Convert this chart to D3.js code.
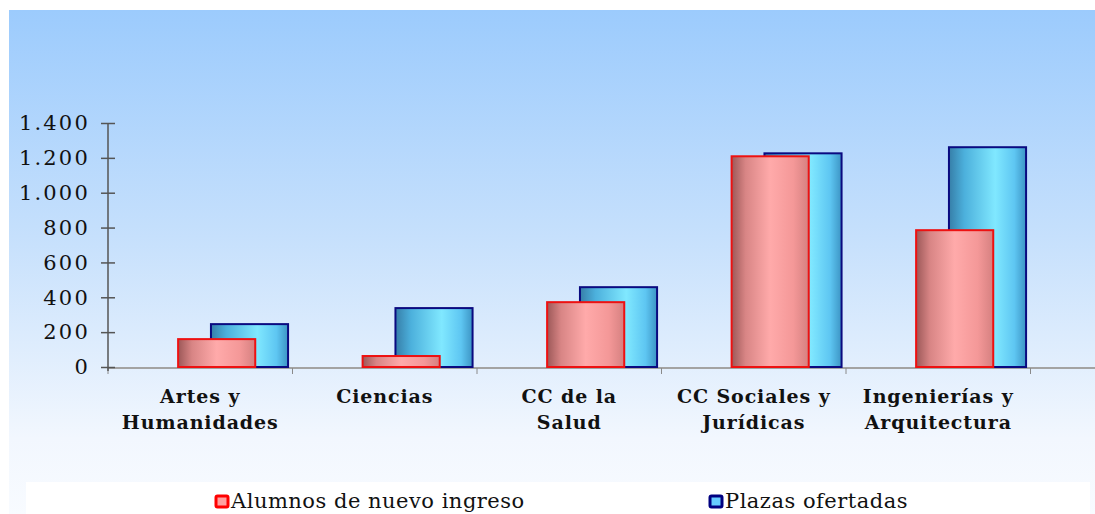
<!DOCTYPE html>
<html>
<head>
<meta charset="utf-8">
<script src="https://cdn.jsdelivr.net/npm/d3@7"></script>
<style>
  html, body { margin: 0; padding: 0; background: #fff; }
</style>
</head>
<body>
<div id="chart"></div>
<script>
// Data
const categories = [
  ["Artes y", "Humanidades"],
  ["Ciencias"],
  ["CC de la", "Salud"],
  ["CC Sociales y", "Jurídicas"],
  ["Ingenierías y", "Arquitectura"]
];
const alumnos = [160, 63, 372, 1209, 785];
const plazas = [246, 338, 458, 1226, 1261];
const seriesNames = ["Alumnos de nuevo ingreso", "Plazas ofertadas"];
const yTicks = [0, 200, 400, 600, 800, 1000, 1200, 1400];

const width = 1095;
const height = 514;

const svg = d3.select("#chart").append("svg")
  .attr("width", width)
  .attr("height", height);

const defs = svg.append("defs");

// background: blue at top fading to near white
const bg = defs.append("linearGradient").attr("id", "bg")
  .attr("x1", 0).attr("y1", 0).attr("x2", 0).attr("y2", 1);
bg.append("stop").attr("offset", 0).attr("stop-color", "#9ccbfd");
bg.append("stop").attr("offset", 0.45).attr("stop-color", "#c6e0fc");
bg.append("stop").attr("offset", 0.85).attr("stop-color", "#f2f7fe");
bg.append("stop").attr("offset", 1).attr("stop-color", "#f8fbff");

// cylinder-ish shading for the bars
function hGrad(id, stops) {
  const g = defs.append("linearGradient").attr("id", id)
    .attr("x1", 0).attr("y1", 0).attr("x2", 1).attr("y2", 0);
  stops.forEach(([o, c]) => g.append("stop").attr("offset", o).attr("stop-color", c));
}
hGrad("redGrad", [[0, "#9c5858"], [0.18, "#d88585"], [0.5, "#ffaaaa"], [0.8, "#f49898"], [1, "#d58080"]]);
hGrad("blueGrad", [[0, "#367ea8"], [0.2, "#4cb0dc"], [0.6, "#80e8ff"], [0.85, "#5ec6f2"], [1, "#3c94c4"]]);

svg.append("rect")
  .attr("x", 9).attr("y", 10)
  .attr("width", width - 9).attr("height", height - 10)
  .attr("fill", "url(#bg)");

// white strip behind the legend
svg.append("rect")
  .attr("x", 26).attr("y", 482)
  .attr("width", 1064).attr("height", height - 482)
  .attr("fill", "#ffffff");

const x = d3.scaleBand()
  .domain(d3.range(categories.length))
  .range([108, 1030.5])
  .padding(0);

const y = d3.scaleLinear()
  .domain([0, 1400])
  .range([367, 123]);

const bw = x.bandwidth();
const barW = bw * 0.418;
const redOff = bw * 0.38;
const blueOff = bw * 0.558;

// x axis baseline + category ticks
svg.append("line")
  .attr("x1", 108).attr("x2", width)
  .attr("y1", y(0) + 1).attr("y2", y(0) + 1)
  .attr("stroke", "#a3a3a3").attr("stroke-width", 2);

svg.append("g")
  .selectAll("line")
  .data(d3.range(categories.length + 1))
  .join("line")
  .attr("x1", i => 108 + i * bw).attr("x2", i => 108 + i * bw)
  .attr("y1", y(0) + 1).attr("y2", y(0) + 7)
  .attr("stroke", "#8a8a8a").attr("stroke-width", 1);

// plazas behind, alumnos in front
svg.append("g")
  .selectAll("rect")
  .data(plazas)
  .join("rect")
  .attr("x", (d, i) => x(i) + blueOff)
  .attr("y", d => y(d))
  .attr("width", barW)
  .attr("height", d => y(0) - y(d))
  .attr("fill", "url(#blueGrad)")
  .attr("stroke", "#0a0a80")
  .attr("stroke-width", 2);

svg.append("g")
  .selectAll("rect")
  .data(alumnos)
  .join("rect")
  .attr("x", (d, i) => x(i) + redOff)
  .attr("y", d => y(d))
  .attr("width", barW)
  .attr("height", d => y(0) - y(d))
  .attr("fill", "url(#redGrad)")
  .attr("stroke", "#ee1111")
  .attr("stroke-width", 2);

// y axis
const fmt = d3.formatLocale({ decimal: ",", thousands: ".", grouping: [3], currency: ["", ""] }).format(",");
const yAxis = svg.append("g")
  .attr("transform", "translate(108,0)")
  .call(d3.axisLeft(y).tickValues(yTicks).tickFormat(fmt).tickSizeInner(7).tickSizeOuter(0).tickPadding(11));
yAxis.select(".domain")
  .attr("stroke", "#555").attr("stroke-width", 1.5)
  .attr("d", `M0,${y(1400)}V${y(0) + 4}`);
yAxis.selectAll(".tick line")
  .attr("x1", -7).attr("x2", 7)
  .attr("stroke", "#555").attr("stroke-width", 1.5);
yAxis.selectAll(".tick text")
  .attr("fill", "#111")
  .attr("font-family", "'DejaVu Serif', serif")
  .attr("font-size", 21)
  .attr("letter-spacing", 2.2);

// category labels
svg.append("g")
  .selectAll("text")
  .data(categories)
  .join("text")
  .attr("text-anchor", "middle")
  .attr("font-family", "'DejaVu Serif', serif")
  .attr("font-weight", "bold")
  .attr("font-size", 19)
  .attr("letter-spacing", 0.9)
  .attr("fill", "#111")
  .each(function (lines, i) {
    d3.select(this).selectAll("tspan")
      .data(lines)
      .join("tspan")
      .attr("x", x(i) + bw / 2)
      .attr("y", (l, j) => 403 + j * 26)
      .text(l => l);
  });

// legend
const legend = [
  { name: seriesNames[0], x: 216, stroke: "#ff0000", fill: "#ffa0a0" },
  { name: seriesNames[1], x: 710, stroke: "#000080", fill: "#66ccff" }
];
const lg = svg.append("g")
  .selectAll("g")
  .data(legend)
  .join("g")
  .attr("transform", d => `translate(${d.x},496)`);
lg.append("rect")
  .attr("width", 12).attr("height", 11)
  .attr("rx", 1.5)
  .attr("fill", d => d.fill)
  .attr("stroke", d => d.stroke)
  .attr("stroke-width", 3);
lg.append("text")
  .attr("x", 15).attr("y", 12)
  .attr("font-family", "'DejaVu Serif', serif")
  .attr("font-size", 21)
  .attr("letter-spacing", 0.5)
  .attr("fill", "#111")
  .text(d => d.name);
</script>
</body>
</html>
